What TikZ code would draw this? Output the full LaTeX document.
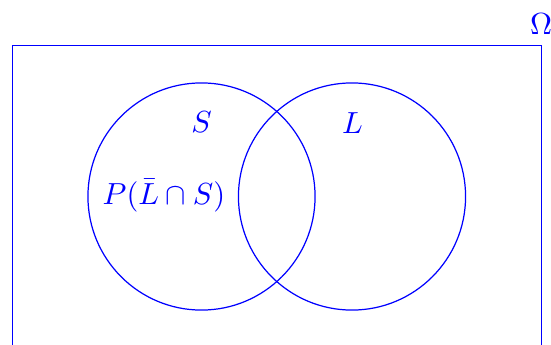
\documentclass[tikz,border=0pt]{standalone}
\begin{document}
\begin{tikzpicture}[x=0.328pt,y=-0.328pt,
  setline/.style={draw=blue,line width=0.4pt},
  lab/.style={text=blue,inner sep=0pt}]
\useasboundingbox (0,0) rectangle (551,344);
\clip (0,0) rectangle (551,344);
\draw[setline] (12.5,400) -- (12.5,45.5) -- (541.5,45.5) -- (541.5,400);
\coordinate (Sc) at (201.5,196.5);
\coordinate (Lc) at (352,196.5);
\draw[setline] (Sc) circle[radius=37.25pt];
\draw[setline] (Lc) circle[radius=37.25pt];
\node[lab] (S) at (201.5,122) {$S$};
\node[lab] (L) at (352.5,123) {$L$};
\node[lab] (P) at (164,196) {$P(\bar{L}\cap S)$};
\node[lab] (O) at (541,24) {$\Omega$};
\end{tikzpicture}
\end{document}
